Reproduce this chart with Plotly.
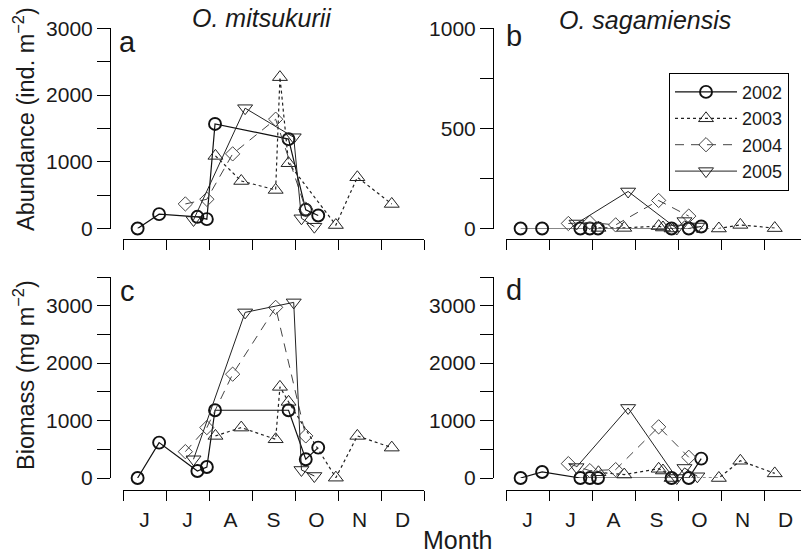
import plotly.graph_objects as go

# ---------------- data (x = month of year, 6.0 = 1 June) ----------------
month_labels = ["J", "J", "A", "S", "O", "N", "D"]
month_label_pos = [6.5, 7.5, 8.5, 9.5, 10.5, 11.5, 12.5]
month_bounds = [6, 7, 8, 9, 10, 11, 12, 13]
years = ["2002", "2003", "2004", "2005"]

x_2002 = [6.34, 6.84, 7.73, 7.95, 8.14, 9.85, 10.25, 10.54]
x_2003 = [8.15, 8.75, 9.55, 9.65, 9.85, 10.95, 11.45, 12.25]
x_2004 = [7.45, 7.95, 8.55, 9.55, 10.25]
x_2005 = [7.64, 8.84, 9.97, 10.15, 10.45]

# O. mitsukurii abundance (ind. m-2)
mit_abund_2002 = [0, 215, 175, 140, 1567, 1340, 280, 195]
mit_abund_2003 = [1088, 712, 578, 2268, 978, 52, 768, 368]
mit_abund_2004 = [368, 438, 1118, 1638, 290]
mit_abund_2005 = [128, 1803, 1368, 153, 27]

# O. sagamiensis abundance (ind. m-2)
sag_abund_2002 = [0, 0, 0, 0, 0, 0, 0, 10]
sag_abund_2003 = [3, 3, 12, 5, 0, 0, 18, 2]
sag_abund_2004 = [25, 30, 18, 140, 62]
sag_abund_2005 = [25, 185, 0, 37, 10]

# O. mitsukurii biomass (mg m-2)
mit_bio_2002 = [0, 616, 122, 192, 1180, 1180, 326, 529]
mit_bio_2003 = [733, 878, 674, 1587, 1326, 6, 733, 529]
mit_bio_2004 = [459, 878, 1808, 2971, 733]
mit_bio_2005 = [326, 2884, 3058, 140, 35]

# O. sagamiensis biomass (mg m-2)
sag_bio_2002 = [0, 105, 0, 0, 0, 0, 0, 338]
sag_bio_2003 = [100, 60, 160, 130, 0, 0, 300, 80]
sag_bio_2004 = [250, 128, 146, 891, 361]
sag_bio_2005 = [190, 1220, 0, 175, 30]

# ---------------- styling / layout ----------------
W, H = 801, 554
def PX(v): return v / W
def PY(v): return 1 - v / H

FONT = "Liberation Sans, Arial, Helvetica, sans-serif"
TXT = "#1a1a1a"
TICK_FS = 21

style = {
    "2002": dict(symbol="circle-open", size=12, mlw=1.9, dash="solid", lw=1.2, color="#111111"),
    "2003": dict(symbol="triangle-up-open", size=13, mlw=1.0, dash="dot", lw=1.2, color="#222222"),
    "2004": dict(symbol="diamond-open", size=11, mlw=1.0, dash="9px,7px", lw=1.0, color="#444444"),
    "2005": dict(symbol="triangle-down-open", size=13, mlw=1.0, dash="solid", lw=1.0, color="#222222"),
}

xs = {"2002": x_2002, "2003": x_2003, "2004": x_2004, "2005": x_2005}
panels = [
    ("x", "y", {"2002": mit_abund_2002, "2003": mit_abund_2003, "2004": mit_abund_2004, "2005": mit_abund_2005}, False),
    ("x2", "y2", {"2002": sag_abund_2002, "2003": sag_abund_2003, "2004": sag_abund_2004, "2005": sag_abund_2005}, True),
    ("x3", "y3", {"2002": mit_bio_2002, "2003": mit_bio_2003, "2004": mit_bio_2004, "2005": mit_bio_2005}, False),
    ("x4", "y4", {"2002": sag_bio_2002, "2003": sag_bio_2003, "2004": sag_bio_2004, "2005": sag_bio_2005}, False),
]

fig = go.Figure()
for xa, ya, vals, show in panels:
    for yr in years:
        s = style[yr]
        fig.add_trace(go.Scatter(
            x=xs[yr], y=vals[yr], xaxis=xa, yaxis=ya, name=yr, legendgroup=yr,
            showlegend=show, mode="lines+markers", cliponaxis=False,
            line=dict(color=s["color"], width=s["lw"], dash=s["dash"]),
            marker=dict(symbol=s["symbol"], size=s["size"], color=s["color"],
                        line=dict(color=s["color"], width=s["mlw"])),
        ))

left_dom = [PX(123), PX(424)]
right_dom = [PX(506), 1.0]
top_dom = [PY(228.5), PY(28.3)]
bot_dom = [PY(478), PY(277)]

def xaxis(dom, rng, pos, labels):
    d = dict(domain=dom, range=rng, anchor="free", position=pos, showline=True,
             linecolor="black", linewidth=1, showgrid=False, zeroline=False,
             automargin=False,
             tickfont=dict(family=FONT, size=TICK_FS, color=TXT))
    if labels:
        d.update(tickmode="array", tickvals=month_label_pos, ticktext=month_labels,
                 ticks="outside", ticklen=11, tickcolor="rgba(0,0,0,0)",
                 minor=dict(tickmode="array", tickvals=month_bounds, ticks="outside",
                            ticklen=10, tickcolor="black", tickwidth=1))
    else:
        d.update(tickmode="array", tickvals=month_bounds, ticks="outside", ticklen=10,
                 tickcolor="black", tickwidth=1, showticklabels=False)
    return d

def yaxis(dom, top, step, lab_step, pos):
    major = list(range(0, top + 1, lab_step))
    minor = [v for v in range(0, top + 1, step) if v % lab_step != 0]
    return dict(domain=dom, range=[0, top], anchor="free", position=pos, showline=True,
                linecolor="black", linewidth=1, showgrid=False, zeroline=False,
                automargin=False,
                tickmode="array", tickvals=major, ticktext=[str(v) for v in major],
                ticks="outside", ticklen=13, tickcolor="black", tickwidth=1,
                minor=dict(tickmode="array", tickvals=minor, ticks="outside",
                           ticklen=13, tickcolor="black", tickwidth=1),
                tickfont=dict(family=FONT, size=TICK_FS, color=TXT))

fig.update_layout(
    width=W, height=H, autosize=False,
    margin=dict(l=0, r=0, t=0, b=0, pad=0),
    paper_bgcolor="white", plot_bgcolor="white",
    xaxis=xaxis(left_dom, [6, 13], PY(239), False),
    xaxis2=xaxis(right_dom, [6, 6 + 295 / 43], PY(239), False),
    xaxis3=xaxis(left_dom, [6, 13], PY(490), True),
    xaxis4=xaxis(right_dom, [6, 6 + 295 / 43], PY(490), True),
    yaxis=yaxis(top_dom, 3000, 500, 1000, PX(110)),
    yaxis2=yaxis(top_dom, 1000, 250, 500, PX(493)),
    yaxis3=yaxis(bot_dom, 3500, 500, 1000, PX(110)),
    yaxis4=yaxis(bot_dom, 3500, 500, 1000, PX(493)),
    legend=dict(x=PX(669), y=PY(72.7), xanchor="left", yanchor="top",
                bordercolor="black", borderwidth=1, bgcolor="white",
                font=dict(family=FONT, size=18, color=TXT), itemwidth=62,
                tracegroupgap=0),
    showlegend=True,
)

ann = [
    dict(text="<i>O. mitsukurii</i>", x=PX(262), y=PY(18), size=25),
    dict(text="<i>O. sagamiensis</i>", x=PX(645), y=PY(20), size=25),
    dict(text="a", x=PX(127), y=PY(42), size=29),
    dict(text="b", x=PX(514), y=PY(36), size=29),
    dict(text="c", x=PX(127), y=PY(291), size=29),
    dict(text="d", x=PX(514), y=PY(290), size=29),
    dict(text="Month", x=PX(458), y=PY(540), size=25),
]
for a in ann:
    fig.add_annotation(text=a["text"], x=a["x"], y=a["y"], xref="paper", yref="paper",
                       xanchor="center", yanchor="middle", showarrow=False,
                       font=dict(family=FONT, size=a["size"], color=TXT))
for txt, yc in [("Abundance (ind. m<sup>−2</sup>)", 119), ("Biomass (mg m<sup>−2</sup>)", 375)]:
    fig.add_annotation(text=txt, x=PX(24), y=PY(yc), xref="paper", yref="paper",
                       xanchor="center", yanchor="middle", textangle=-90, showarrow=False,
                       font=dict(family=FONT, size=23.5, color=TXT))

fig.write_html("out.html", config={"displayModeBar": False},
               post_script="document.body.style.margin='0';document.body.style.overflow='hidden';")
